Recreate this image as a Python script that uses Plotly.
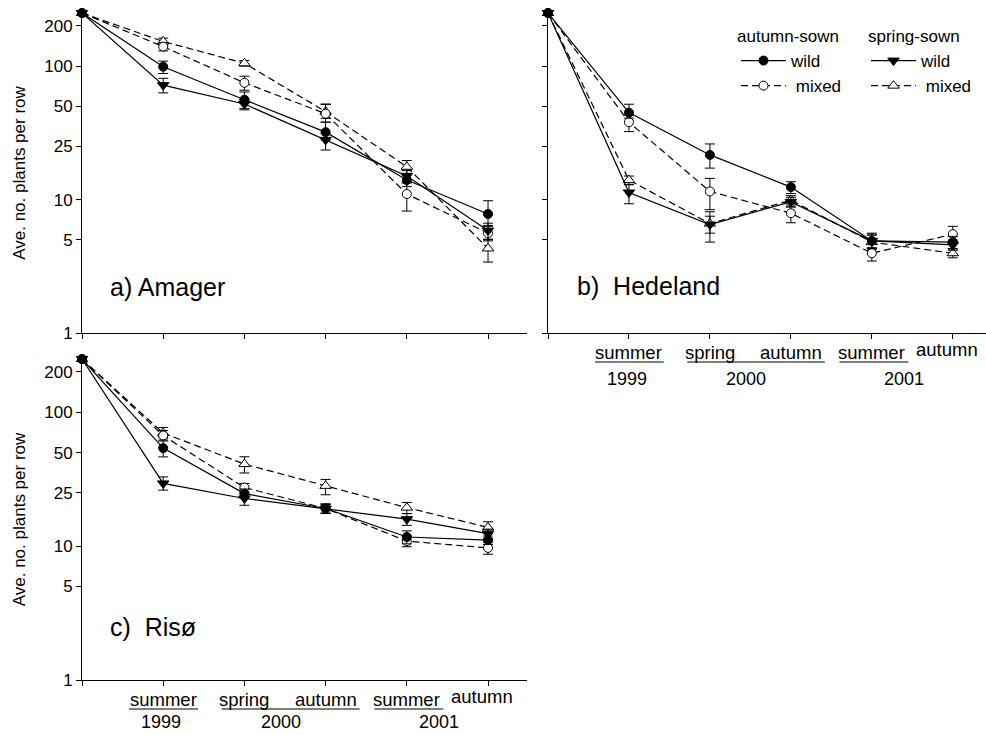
import math
import plotly.graph_objects as go

# ---------------- data ----------------
x_idx = [0, 1, 2, 3, 4, 5]
periods = ["start", "summer 1999", "spring 2000", "autumn 2000", "summer 2001", "autumn 2001"]
y_ticks = [1, 5, 10, 25, 50, 100, 200]
y_ticktext = ["1", "5", "10", "25", "50", "100", "200"]

# a) Amager
amager_aw = [250, 99, 56, 32, 14, 7.8]
amager_aw_up = [0, 10, 8, 6, 1.7, 2.0]
amager_aw_dn = [0, 11, 8, 4, 1.5, 1.5]
amager_am = [250, 140, 75, 44, 11, 5.6]
amager_am_up = [0, 10, 9, 8, 2.3, 0.8]
amager_am_dn = [0, 10, 9, 6, 2.8, 0.7]
amager_sw = [250, 72, 52, 28, 15, 5.85]
amager_sw_up = [0, 9, 4, 3.5, 1.5, 0.8]
amager_sw_dn = [0, 9, 5, 4.5, 1.5, 0.8]
amager_sm = [250, 153, 105, 45.6, 17.6, 4.3]
amager_sm_up = [0, 9, 5, 6, 2.0, 0.7]
amager_sm_dn = [0, 9, 5, 5, 1.9, 0.9]

# b) Hedeland
hede_aw = [250, 44.8, 21.6, 12.4, 4.9, 4.8]
hede_aw_up = [0, 7, 4.5, 1.2, 0.6, 0.5]
hede_aw_dn = [0, 4, 4.4, 1.3, 0.6, 0.5]
hede_am = [250, 38, 11.5, 7.9, 3.96, 5.5]
hede_am_up = [0, 5, 2.9, 0.9, 0.4, 0.8]
hede_am_dn = [0, 5.7, 3.1, 1.2, 0.5, 0.7]
hede_sw = [250, 11.3, 6.5, 9.6, 4.9, 4.57]
hede_sw_up = [0, 1.6, 1.0, 0.8, 0.7, 0.4]
hede_sw_dn = [0, 2.0, 1.7, 0.8, 0.6, 0.4]
hede_sm = [250, 14, 6.6, 9.9, 4.8, 3.96]
hede_sm_up = [0, 1.0, 1.5, 0.8, 0.6, 0.3]
hede_sm_dn = [0, 1.0, 1.0, 0.8, 0.6, 0.3]

# c) Risø
riso_aw = [250, 54, 24.7, 19.1, 11.7, 11.1]
riso_aw_up = [0, 8, 2, 1.5, 1.3, 0.8]
riso_aw_dn = [0, 7.6, 2, 1.5, 1.3, 0.8]
riso_am = [250, 67, 27.4, 19.1, 10.9, 9.7]
riso_am_up = [0, 6, 2, 1.5, 1.0, 1.0]
riso_am_dn = [0, 6, 2, 1.5, 1.0, 1.0]
riso_sw = [250, 29.4, 22.7, 19.1, 15.9, 12.4]
riso_sw_up = [0, 3.5, 2.0, 1.5, 1.6, 1.0]
riso_sw_dn = [0, 3.2, 2.5, 1.5, 1.6, 1.0]
riso_sm = [250, 70, 41, 28.2, 19.4, 13.8]
riso_sm_up = [0, 7, 5.5, 3.3, 1.8, 1.4]
riso_sm_dn = [0, 5, 5.8, 4.0, 1.9, 1.4]

# ---------------- styling ----------------
W, H = 986, 735
FONT = "Liberation Sans, Arial, sans-serif"


def px_y(p):
    return 1 - p / H


def px_x(p):
    return p / W


series_style = {
    "aw": dict(name="wild", dash="solid", symbol="circle", fill="black", size=9, legend="legend"),
    "am": dict(name=" mixed", dash="7px,4px", symbol="circle", fill="white", size=9, legend="legend"),
    "sw": dict(name="wild", dash="solid", symbol="triangle-down", fill="black", size=10, legend="legend2"),
    "sm": dict(name=" mixed", dash="7px,4px", symbol="triangle-up", fill="white", size=10, legend="legend2"),
}

panels = [
    ("x", "y", {"aw": (amager_aw, amager_aw_up, amager_aw_dn),
                "am": (amager_am, amager_am_up, amager_am_dn),
                "sw": (amager_sw, amager_sw_up, amager_sw_dn),
                "sm": (amager_sm, amager_sm_up, amager_sm_dn)}, True),
    ("x2", "y2", {"aw": (hede_aw, hede_aw_up, hede_aw_dn),
                  "am": (hede_am, hede_am_up, hede_am_dn),
                  "sw": (hede_sw, hede_sw_up, hede_sw_dn),
                  "sm": (hede_sm, hede_sm_up, hede_sm_dn)}, False),
    ("x3", "y3", {"aw": (riso_aw, riso_aw_up, riso_aw_dn),
                  "am": (riso_am, riso_am_up, riso_am_dn),
                  "sw": (riso_sw, riso_sw_up, riso_sw_dn),
                  "sm": (riso_sm, riso_sm_up, riso_sm_dn)}, False),
]

fig = go.Figure()
for xa, ya, data, show in panels:
    for key in ["sm", "am", "sw", "aw"]:
        vals, up, dn = data[key]
        st = series_style[key]
        fig.add_trace(go.Scatter(
            x=x_idx, y=vals, xaxis=xa, yaxis=ya,
            mode="lines+markers", name=st["name"],
            legend=st["legend"], showlegend=show,
            legendrank={"aw": 1, "am": 2, "sw": 1, "sm": 2}[key],
            line=dict(color="black", width=1.2, dash=st["dash"]),
            marker=dict(symbol=st["symbol"], size=st["size"], color=st["fill"],
                        line=dict(color="black", width=1)),
            error_y=dict(type="data", symmetric=False, array=up, arrayminus=dn,
                         color="black", thickness=1, width=5),
            cliponaxis=False,
            hovertext=periods,
        ))

axis_common = dict(showline=True, linecolor="black", linewidth=1, ticks="outside",
                   ticklen=5, tickcolor="black", tickwidth=1, showgrid=False,
                   zeroline=False, automargin=False)

yrange = [0, math.log10(250)]
xa_dom = [px_x(82), px_x(527)]
xb_dom = [px_x(548), 1.0]
yab_dom = [px_y(333), px_y(13)]
yc_dom = [px_y(680), px_y(359)]

ytitle = dict(text="Ave. no. plants per row", font=dict(size=17, family=FONT, color="black"), standoff=14)

leg_common = dict(xanchor="left", yanchor="top", font=dict(size=17), bgcolor="rgba(0,0,0,0)",
                  tracegroupgap=0, itemwidth=45)

fig.update_layout(
    width=W, height=H,
    margin=dict(l=0, r=0, t=0, b=0),
    paper_bgcolor="white", plot_bgcolor="white",
    font=dict(family=FONT, size=17, color="black"),
    xaxis=dict(domain=xa_dom, range=[0, 5.48], tickvals=x_idx, showticklabels=False, anchor="y", **axis_common),
    yaxis=dict(domain=yab_dom, type="log", range=yrange, tickvals=y_ticks, ticktext=y_ticktext,
               tickfont=dict(size=17), title=ytitle, anchor="x", **axis_common),
    xaxis2=dict(domain=xb_dom, range=[0, 5.41], tickvals=x_idx, showticklabels=False, anchor="y2", **axis_common),
    yaxis2=dict(domain=yab_dom, type="log", range=yrange, tickvals=y_ticks, showticklabels=False,
                anchor="x2", **axis_common),
    xaxis3=dict(domain=xa_dom, range=[0, 5.48], tickvals=x_idx, showticklabels=False, anchor="y3", **axis_common),
    yaxis3=dict(domain=yc_dom, type="log", range=yrange, tickvals=y_ticks, ticktext=y_ticktext,
                tickfont=dict(size=17), title=ytitle, anchor="x3", **axis_common),
    legend=dict(x=px_x(736), y=px_y(43), **leg_common),
    legend2=dict(x=px_x(866), y=px_y(43), **leg_common),
)

# legend headers
for txt, cx in [("autumn-sown", 788), ("spring-sown", 914)]:
    fig.add_annotation(text=txt, xref="paper", yref="paper", x=px_x(cx), y=px_y(36),
                       xanchor="center", yanchor="middle", showarrow=False,
                       font=dict(size=17, family=FONT, color="black"))

# panel labels
labels = [("a) Amager", 108, 287), ("b)  Hedeland", 575, 286), ("c)  Risø", 108, 627)]
for txt, lx, ly in labels:
    fig.add_annotation(text=txt, xref="paper", yref="paper", x=px_x(lx), y=px_y(ly),
                       xanchor="left", yanchor="middle", showarrow=False,
                       font=dict(size=25, family=FONT, color="black"))

# season / year labels under panels b and c
for xr, axis_px, year_off in [("x2", 333, 46), ("x3", 680, 42)]:
    season_y = axis_px + 19
    line_y = axis_px + 29
    year_y = axis_px + year_off
    for xi, txt, raise_px in [(1, "summer", 0), (2, "spring", 0), (3, "autumn", 0),
                              (4, "summer", 0), (4.93, "autumn", 3)]:
        fig.add_annotation(text=txt, xref=xr, yref="paper", x=xi, y=px_y(season_y - raise_px),
                           xanchor="center", yanchor="middle", showarrow=False,
                           font=dict(size=18.5, family=FONT, color="black"))
    for xi, txt in [(0.97, "1999"), (2.45, "2000"), (4.4, "2001")]:
        fig.add_annotation(text=txt, xref=xr, yref="paper", x=xi, y=px_y(year_y),
                           xanchor="center", yanchor="middle", showarrow=False, borderpad=0,
                           font=dict(size=18, family=FONT, color="black"))
    for x0, x1 in [(0.58, 1.43), (1.72, 3.42), (3.6, 4.45)]:
        fig.add_shape(type="line", xref=xr, yref="paper", x0=x0, x1=x1,
                      y0=px_y(line_y), y1=px_y(line_y), line=dict(color="black", width=1))

fig.write_html("out.html")
